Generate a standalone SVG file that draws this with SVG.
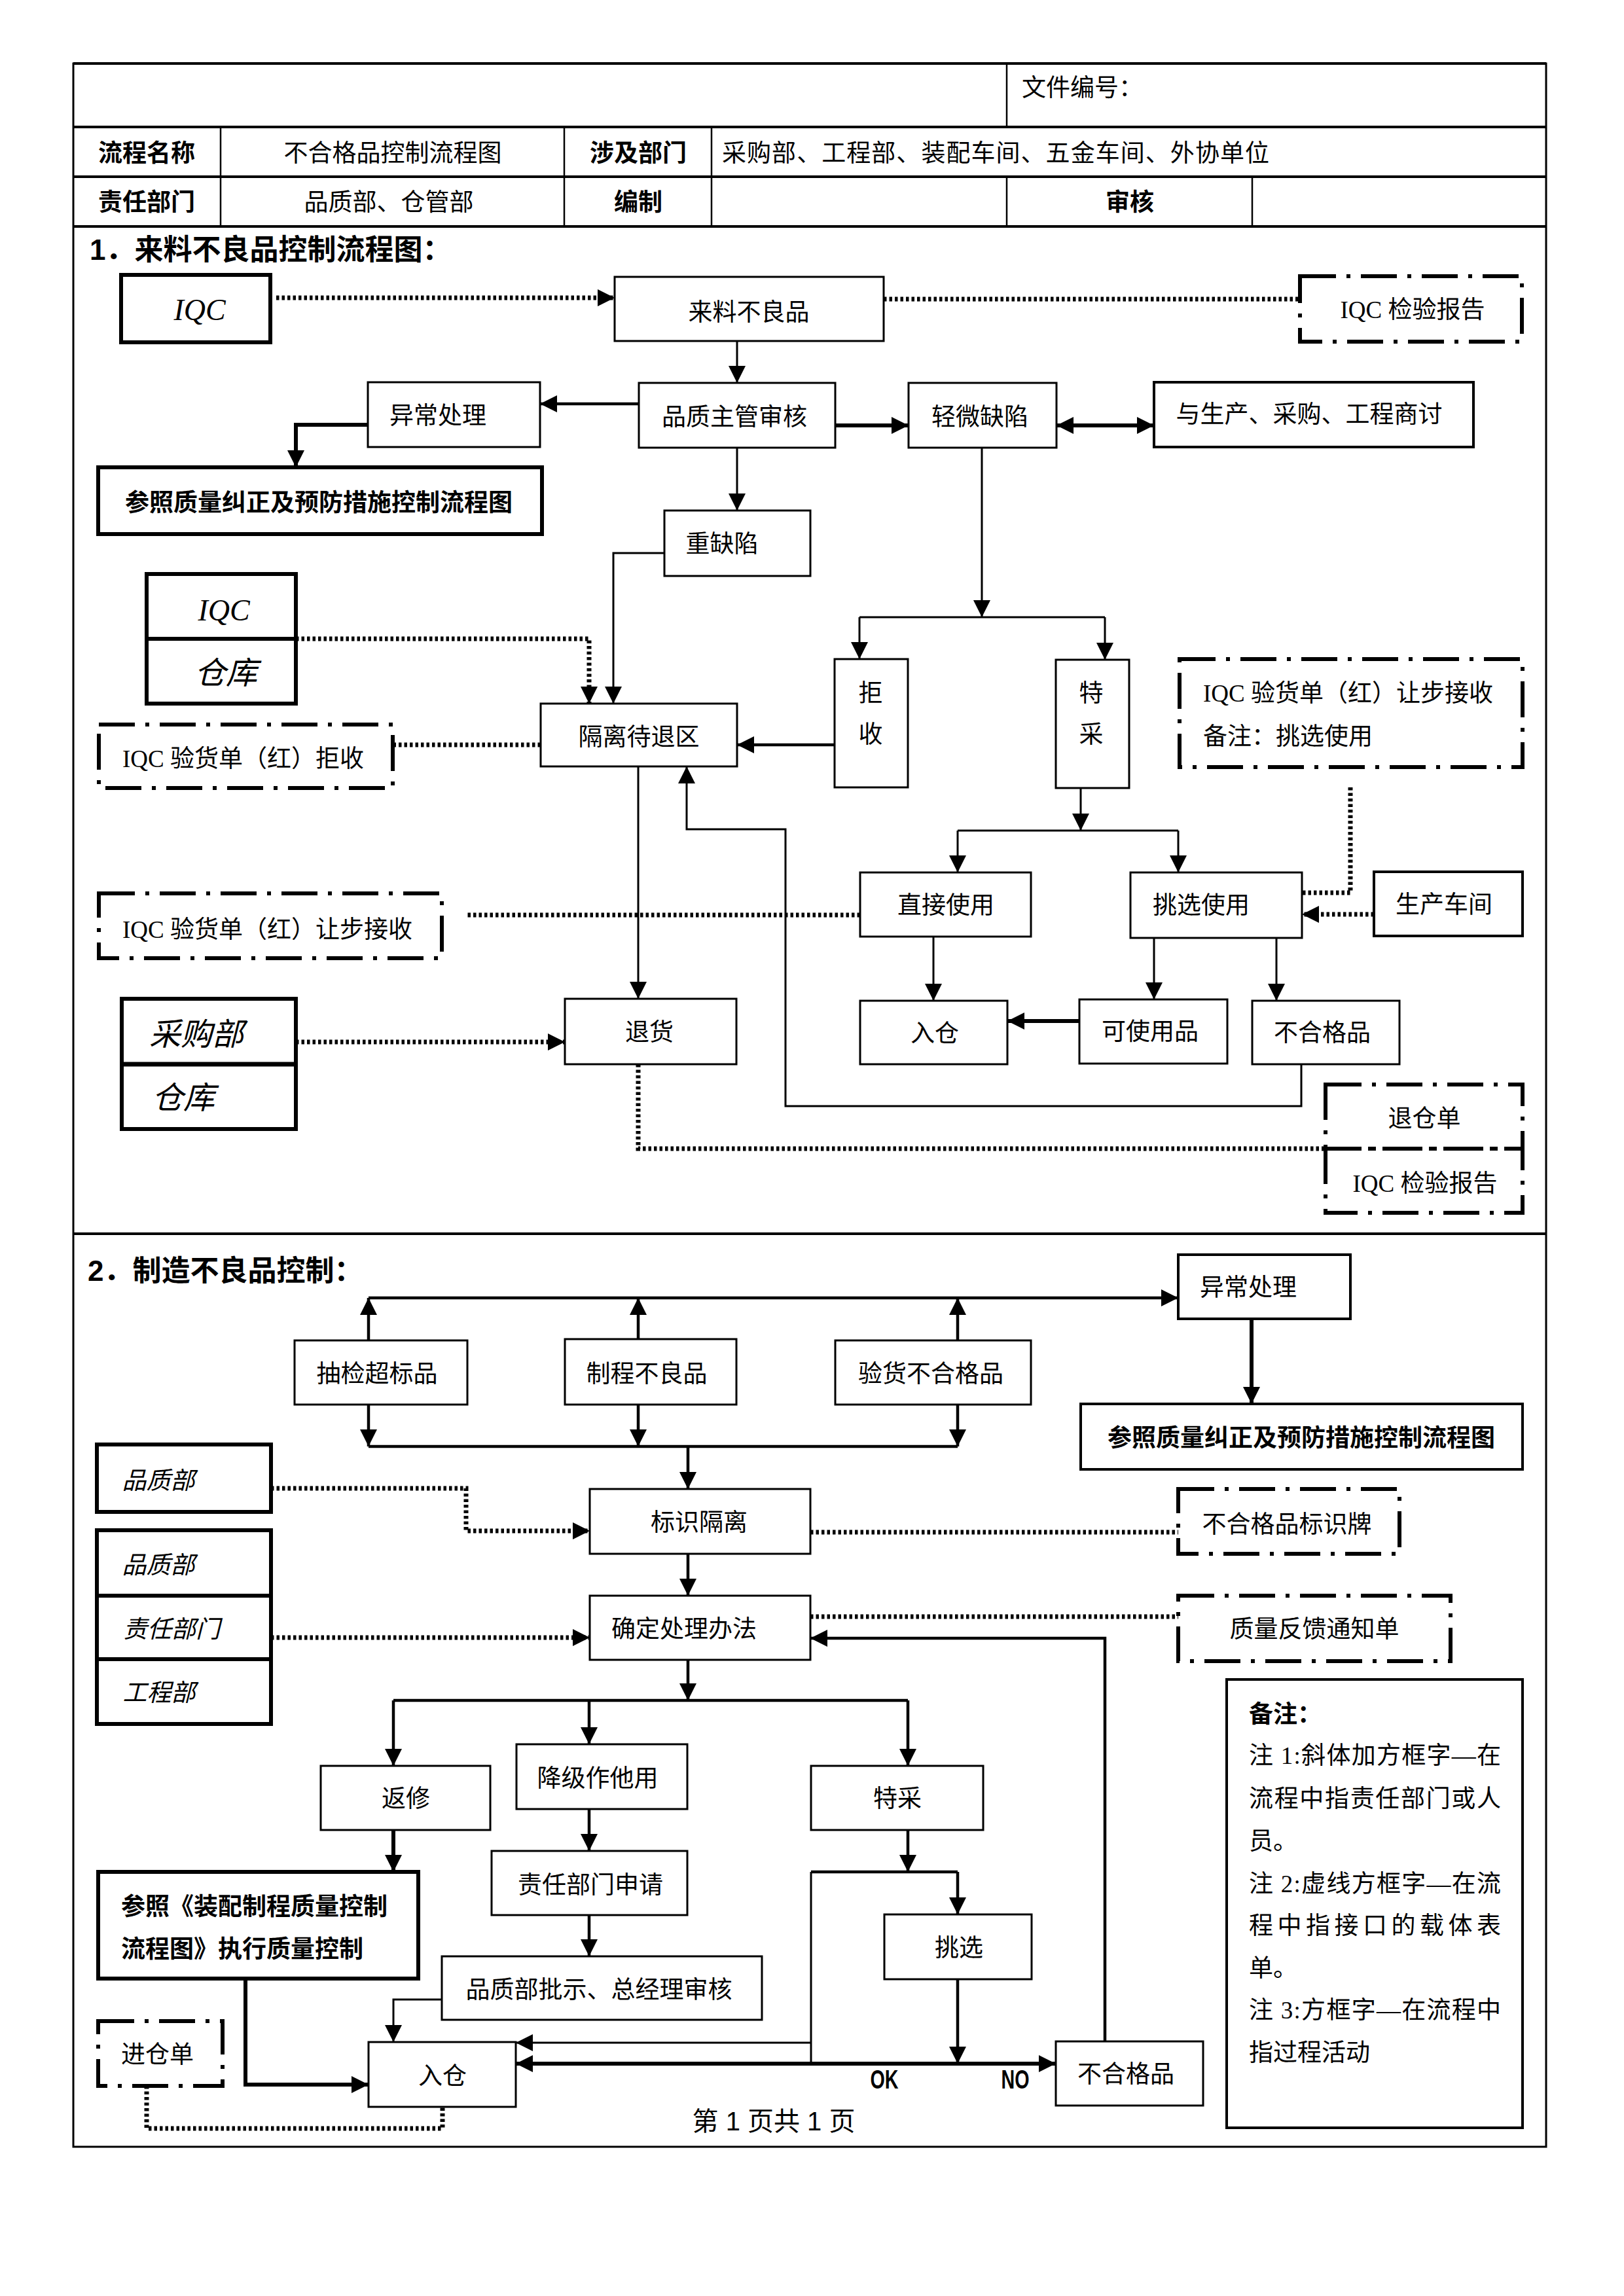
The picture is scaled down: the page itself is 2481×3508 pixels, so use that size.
<svg xmlns="http://www.w3.org/2000/svg" width="2481" height="3508" viewBox="0 0 2481 3508">
<style>
.box{fill:#fff;stroke:#000;stroke-width:3}
.box4{fill:#fff;stroke:#000;stroke-width:4}
.tbox{fill:#fff;stroke:#000;stroke-width:6}
.dd{fill:none;stroke:#000;stroke-width:6;stroke-dasharray:55 16 6 16}
.ln{fill:none;stroke:#000;stroke-width:3}
.l4{fill:none;stroke:#000;stroke-width:4.5}
.lb{fill:none;stroke:#000;stroke-width:6}
.dot{fill:none;stroke:#000;stroke-width:7;stroke-dasharray:4.5 4}
.grid{stroke:#000;stroke-width:4}
.vg{stroke:#000;stroke-width:2.5}
.t{font-family:"Liberation Serif","Noto Sans CJK SC",serif;font-size:37px;text-anchor:middle;fill:#000}
.s{font-family:"Liberation Sans","Noto Sans CJK SC",sans-serif;font-size:37px;text-anchor:middle;fill:#000}
.b{font-weight:bold}
.st{text-anchor:start}
.it{font-style:italic}
.big{font-size:48px}
.iq{font-size:46px}
</style>
<defs>
<marker id="a" viewBox="0 0 26 26" markerWidth="26" markerHeight="26" refX="26" refY="13" orient="auto-start-reverse" markerUnits="userSpaceOnUse"><path d="M0,0 L26,13 L0,26 z" fill="#000"/></marker>
</defs>
<rect width="2481" height="3508" fill="#fff"/>

<g id="frame">
<rect x="112" y="97" width="2250" height="3183" fill="none" stroke="#000" stroke-width="3"/>
<line class="grid" x1="112" y1="97" x2="2362" y2="97" stroke-width="5"/>
<line class="grid" x1="112" y1="194" x2="2362" y2="194"/>
<line class="grid" x1="112" y1="270" x2="2362" y2="270"/>
<line class="grid" x1="112" y1="346" x2="2362" y2="346"/>
<line class="grid" x1="112" y1="1885" x2="2362" y2="1885"/>
<line class="vg" x1="337" y1="194" x2="337" y2="346"/>
<line class="vg" x1="862" y1="194" x2="862" y2="346"/>
<line class="vg" x1="1087" y1="194" x2="1087" y2="346"/>
<line class="vg" x1="1538" y1="97" x2="1538" y2="194"/>
<line class="vg" x1="1538" y1="270" x2="1538" y2="346"/>
<line class="vg" x1="1913" y1="270" x2="1913" y2="346"/>
<text class="s st" x="1561" y="147">文件编号：</text>
<text class="s b" x="224" y="247">流程名称</text>
<text class="s" x="600" y="247">不合格品控制流程图</text>
<text class="s b" x="975" y="247">涉及部门</text>
<text class="s st" x="1103" y="247" textLength="836" lengthAdjust="spacing">采购部、工程部、装配车间、五金车间、外协单位</text>
<text class="s b" x="224" y="322">责任部门</text>
<text class="s" x="594" y="322">品质部、仓管部</text>
<text class="s b" x="975" y="322">编制</text>
<text class="s b" x="1726" y="322">审核</text>
<text class="s b st" x="137" y="397" style="font-size:44px">1．来料不良品控制流程图：</text>
<text class="s b st" x="134" y="1957" style="font-size:44px">2．制造不良品控制：</text>
<text class="s" x="1182" y="3255" style="font-size:40px">第 1 页共 1 页</text>
</g>

<g id="connectors">
<path class="dot" d="M422,455 H939" marker-end="url(#a)"/>
<path class="dot" d="M1350,457 H1986"/>
<path class="ln" d="M1126,521 V585" marker-end="url(#a)"/>
<path class="l4" d="M976,617 H825" marker-end="url(#a)"/>
<path class="lb" d="M562,649 H452 V714" marker-end="url(#a)"/>
<path class="lb" d="M1276,650 H1388" marker-end="url(#a)"/>
<path class="lb" d="M1614,650 H1763" marker-start="url(#a)" marker-end="url(#a)"/>
<path class="ln" d="M1126,684 V780" marker-end="url(#a)"/>
<path class="ln" d="M1500,684 V943" marker-end="url(#a)"/>
<path class="ln" d="M1313,943 H1688"/>
<path class="ln" d="M1313,943 V1007" marker-end="url(#a)"/>
<path class="ln" d="M1688,943 V1008" marker-end="url(#a)"/>
<path class="ln" d="M1015,845 H937 V1075" marker-end="url(#a)"/>
<path class="dot" d="M452,976 H900 V1075" marker-end="url(#a)"/>
<path class="l4" d="M1275,1138 H1126" marker-end="url(#a)"/>
<path class="dot" d="M826,1138 H600"/>
<path class="ln" d="M975,1171 V1526" marker-end="url(#a)"/>
<path class="ln" d="M1988,1626 V1690 H1200 V1267 H1049 V1171" marker-end="url(#a)"/>
<path class="ln" d="M1651,1204 V1269" marker-end="url(#a)"/>
<path class="ln" d="M1463,1269 H1800"/>
<path class="ln" d="M1463,1269 V1333" marker-end="url(#a)"/>
<path class="ln" d="M1800,1269 V1333" marker-end="url(#a)"/>
<path class="dot" d="M1314,1398 H714"/>
<path class="dot" d="M2063,1203 V1364 H1989"/>
<path class="dot" d="M2099,1397 H1989" marker-end="url(#a)"/>
<path class="ln" d="M1426,1431 V1529" marker-end="url(#a)"/>
<path class="ln" d="M1763,1433 V1527" marker-end="url(#a)"/>
<path class="ln" d="M1950,1433 V1529" marker-end="url(#a)"/>
<path class="lb" d="M1649,1560 H1539" marker-end="url(#a)"/>
<path class="dot" d="M452,1592 H863" marker-end="url(#a)"/>
<path class="dot" d="M975,1626 V1755 H2025"/>

<path class="l4" d="M563,1983 H1800" marker-end="url(#a)"/>
<path class="l4" d="M563,2048 V1983" marker-end="url(#a)"/>
<path class="l4" d="M975,2046 V1983" marker-end="url(#a)"/>
<path class="l4" d="M1463,2048 V1983" marker-end="url(#a)"/>
<path class="l4" d="M563,2146 V2210" marker-end="url(#a)"/>
<path class="l4" d="M975,2146 V2210" marker-end="url(#a)"/>
<path class="l4" d="M1463,2146 V2210" marker-end="url(#a)"/>
<path class="l4" d="M563,2210 H1463"/>
<path class="l4" d="M1051,2210 V2275" marker-end="url(#a)"/>
<path class="lb" d="M1912,2015 V2145" marker-end="url(#a)"/>
<path class="dot" d="M414,2274 H712 V2339 H901" marker-end="url(#a)"/>
<path class="l4" d="M1051,2374 V2438" marker-end="url(#a)"/>
<path class="dot" d="M1238,2341 H1800"/>
<path class="dot" d="M1238,2470 H1800"/>
<path class="dot" d="M414,2502 H901" marker-end="url(#a)"/>
<path class="l4" d="M1688,3119 V2503 H1238" marker-end="url(#a)"/>
<path class="l4" d="M1051,2536 V2598" marker-end="url(#a)"/>
<path class="l4" d="M601,2598 H1387"/>
<path class="l4" d="M601,2598 V2698" marker-end="url(#a)"/>
<path class="l4" d="M900,2598 V2665" marker-end="url(#a)"/>
<path class="l4" d="M1387,2598 V2698" marker-end="url(#a)"/>
<path class="lb" d="M601,2796 V2860" marker-end="url(#a)"/>
<path class="l4" d="M900,2764 V2828" marker-end="url(#a)"/>
<path class="l4" d="M900,2926 V2989" marker-end="url(#a)"/>
<path class="ln" d="M675,3055 H601 V3120" marker-end="url(#a)"/>
<path class="lb" d="M375,3023 V3185 H563" marker-end="url(#a)"/>
<path class="dot" d="M224,3187 V3252 H676 V3219"/>
<path class="l4" d="M1387,2796 V2860" marker-end="url(#a)"/>
<path class="l4" d="M1239,2860 H1463"/>
<path class="l4" d="M1463,2860 V2925" marker-end="url(#a)"/>
<path class="ln" d="M1239,2860 V3153"/>
<path class="ln" d="M1239,3121 H788" marker-end="url(#a)"/>
<path class="lb" d="M1613,3153 H788" marker-start="url(#a)" marker-end="url(#a)"/>
<path class="l4" d="M1463,3024 V3153" marker-end="url(#a)"/>
<text class="s b" x="1351" y="3191" style="font-size:40px" textLength="43" lengthAdjust="spacingAndGlyphs">OK</text>
<text class="s b" x="1551" y="3191" style="font-size:40px" textLength="43" lengthAdjust="spacingAndGlyphs">NO</text>
</g>

<g id="n-iqc1"><rect class="tbox" x="185" y="420" width="228" height="103"/><text class="t it iq" x="305" y="489">IQC</text></g>
<g id="n-lailiao"><rect class="box" x="939" y="423" width="411" height="98"/><text class="t" x="1144" y="490">来料不良品</text></g>
<g id="n-iqcrep1"><rect class="dd" x="1986" y="422" width="339" height="100"/><text class="t" x="2158" y="486">IQC 检验报告</text></g>
<g id="n-yichang1"><rect class="box" x="562" y="584" width="263" height="99"/><text class="t" x="669" y="648">异常处理</text></g>
<g id="n-pinzhi"><rect class="box" x="976" y="585" width="300" height="99"/><text class="t" x="1122" y="650">品质主管审核</text></g>
<g id="n-qingwei"><rect class="box" x="1388" y="585" width="226" height="99"/><text class="t" x="1497" y="650">轻微缺陷</text></g>
<g id="n-shangtao"><rect class="box4" x="1763" y="584" width="488" height="99"/><text class="t" x="2000" y="646">与生产、采购、工程商讨</text></g>
<g id="n-canzhao1"><rect class="tbox" x="150" y="714" width="678" height="102"/><text class="s b" x="487" y="781">参照质量纠正及预防措施控制流程图</text></g>
<g id="n-zhong"><rect class="box" x="1015" y="780" width="223" height="100"/><text class="t" x="1103" y="844">重缺陷</text></g>
<g id="n-iqcck"><rect class="tbox" x="224" y="877" width="228" height="198"/><line x1="224" y1="976" x2="452" y2="976" stroke="#000" stroke-width="6"/><text class="t it iq" x="342" y="948">IQC</text><text class="t it big" x="345" y="1045">仓库</text></g>
<g id="n-geli"><rect class="box" x="826" y="1075" width="300" height="96"/><text class="t" x="976" y="1139">隔离待退区</text></g>
<g id="n-jushoured"><rect class="dd" x="151" y="1107" width="449" height="97"/><text class="t st" x="187" y="1172">IQC 验货单（红）拒收</text></g>
<g id="n-jushou"><rect class="box" x="1275" y="1007" width="112" height="196"/><text class="t" x="1330" y="1072">拒</text><text class="t" x="1330" y="1135">收</text></g>
<g id="n-tecai1"><rect class="box" x="1613" y="1008" width="112" height="196"/><text class="t" x="1667" y="1072">特</text><text class="t" x="1667" y="1135">采</text></g>
<g id="n-rangbu2"><rect class="dd" x="1802" y="1007" width="524" height="165"/><text class="t st" x="1838" y="1072">IQC 验货单（红）让步接收</text><text class="t st" x="1838" y="1138">备注：挑选使用</text></g>
<g id="n-rangbu1"><rect class="dd" x="151" y="1365" width="524" height="99"/><text class="t st" x="187" y="1433">IQC 验货单（红）让步接收</text></g>
<g id="n-zhijie"><rect class="box" x="1314" y="1333" width="261" height="98"/><text class="t" x="1445" y="1396">直接使用</text></g>
<g id="n-tiaoxuan1"><rect class="box" x="1727" y="1333" width="262" height="100"/><text class="t" x="1835" y="1396">挑选使用</text></g>
<g id="n-shengchan"><rect class="box4" x="2099" y="1332" width="227" height="98"/><text class="t" x="2206" y="1395">生产车间</text></g>
<g id="n-rucang1"><rect class="box" x="1314" y="1529" width="225" height="97"/><text class="t" x="1428" y="1592">入仓</text></g>
<g id="n-keshiyong"><rect class="box" x="1649" y="1527" width="226" height="98"/><text class="t" x="1757" y="1589">可使用品</text></g>
<g id="n-buhege1"><rect class="box" x="1913" y="1529" width="225" height="97"/><text class="t" x="2020" y="1591">不合格品</text></g>
<g id="n-tuihuo"><rect class="box" x="863" y="1526" width="262" height="100"/><text class="t" x="992" y="1590">退货</text></g>
<g id="n-caigou"><rect class="tbox" x="186" y="1526" width="266" height="199"/><line x1="186" y1="1626" x2="452" y2="1626" stroke="#000" stroke-width="7"/><text class="t it big" x="300" y="1597">采购部</text><text class="t it big" x="280" y="1694">仓库</text></g>
<g id="n-tuicang"><rect class="dd" x="2025" y="1657" width="301" height="98"/><text class="t" x="2176" y="1722">退仓单</text></g>
<g id="n-iqcrep2"><rect class="dd" x="2025" y="1755" width="301" height="98"/><text class="t" x="2177" y="1821">IQC 检验报告</text></g>

<g id="n-choujian"><rect class="box" x="450" y="2048" width="264" height="98"/><text class="t" x="576" y="2112">抽检超标品</text></g>
<g id="n-zhicheng"><rect class="box" x="863" y="2046" width="262" height="100"/><text class="t" x="988" y="2112">制程不良品</text></g>
<g id="n-yanhuo"><rect class="box" x="1276" y="2048" width="299" height="98"/><text class="t" x="1422" y="2112">验货不合格品</text></g>
<g id="n-yichang2"><rect class="box4" x="1800" y="1917" width="263" height="98"/><text class="t" x="1907" y="1980">异常处理</text></g>
<g id="n-canzhao2"><rect class="box4" x="1651" y="2145" width="675" height="100"/><text class="s b" x="1988" y="2210">参照质量纠正及预防措施控制流程图</text></g>
<g id="n-pinzhibu1"><rect class="tbox" x="148" y="2207" width="266" height="103"/><text class="t it" x="242" y="2275">品质部</text></g>
<g id="n-biaoshi"><rect class="box" x="901" y="2275" width="337" height="99"/><text class="t" x="1068" y="2339">标识隔离</text></g>
<g id="n-biaoshipai"><rect class="dd" x="1800" y="2275" width="338" height="99"/><text class="t" x="1966" y="2342">不合格品标识牌</text></g>
<g id="n-dept3"><rect class="tbox" x="148" y="2338" width="266" height="296"/><line x1="148" y1="2438" x2="414" y2="2438" stroke="#000" stroke-width="6"/><line x1="148" y1="2535" x2="414" y2="2535" stroke="#000" stroke-width="6"/><text class="t it" x="242" y="2404">品质部</text><text class="t it" x="262" y="2502">责任部门</text><text class="t it" x="243" y="2599">工程部</text></g>
<g id="n-queding"><rect class="box" x="901" y="2438" width="337" height="98"/><text class="t" x="1045" y="2502">确定处理办法</text></g>
<g id="n-fankui"><rect class="dd" x="1800" y="2438" width="416" height="100"/><text class="t" x="2008" y="2502">质量反馈通知单</text></g>
<g id="n-fanxiu"><rect class="box" x="490" y="2698" width="259" height="98"/><text class="t" x="620" y="2761">返修</text></g>
<g id="n-jiangji"><rect class="box" x="789" y="2665" width="261" height="99"/><text class="t" x="913" y="2730">降级作他用</text></g>
<g id="n-tecai2"><rect class="box" x="1239" y="2698" width="263" height="98"/><text class="t" x="1371" y="2761">特采</text></g>
<g id="n-zhuangpei"><rect class="tbox" x="150" y="2860" width="489" height="163"/><text class="s b st" x="185" y="2926">参照《装配制程质量控制</text><text class="s b st" x="185" y="2991">流程图》执行质量控制</text></g>
<g id="n-shenqing"><rect class="box" x="751" y="2828" width="299" height="98"/><text class="t" x="902" y="2893">责任部门申请</text></g>
<g id="n-pishi"><rect class="box" x="675" y="2989" width="489" height="97"/><text class="t" x="915" y="3053">品质部批示、总经理审核</text></g>
<g id="n-tiaoxuan2"><rect class="box" x="1351" y="2925" width="225" height="99"/><text class="t" x="1465" y="2989">挑选</text></g>
<g id="n-rucang2"><rect class="box" x="563" y="3120" width="225" height="99"/><text class="t" x="676" y="3185">入仓</text></g>
<g id="n-buhege2"><rect class="box" x="1613" y="3119" width="225" height="98"/><text class="t" x="1720" y="3182">不合格品</text></g>
<g id="n-jincang"><rect class="dd" x="150" y="3088" width="190" height="99"/><text class="t st" x="185" y="3152">进仓单</text></g>
<g id="n-beizhu"><rect class="box4" x="1874" y="2566" width="452" height="685"/>
<text class="s b st" x="1908" y="2632">备注：</text>
<text class="t st" x="1908" y="2695" textLength="385" lengthAdjust="spacing">注 1:斜体加方框字—在</text>
<text class="t st" x="1908" y="2761" textLength="385" lengthAdjust="spacing">流程中指责任部门或人</text>
<text class="t st" x="1908" y="2826">员。</text>
<text class="t st" x="1908" y="2891" textLength="385" lengthAdjust="spacing">注 2:虚线方框字—在流</text>
<text class="t st" x="1908" y="2955" textLength="385" lengthAdjust="spacing">程中指接口的载体表</text>
<text class="t st" x="1908" y="3020">单。</text>
<text class="t st" x="1908" y="3084" textLength="385" lengthAdjust="spacing">注 3:方框字—在流程中</text>
<text class="t st" x="1908" y="3149">指过程活动</text>
</g>
</svg>
